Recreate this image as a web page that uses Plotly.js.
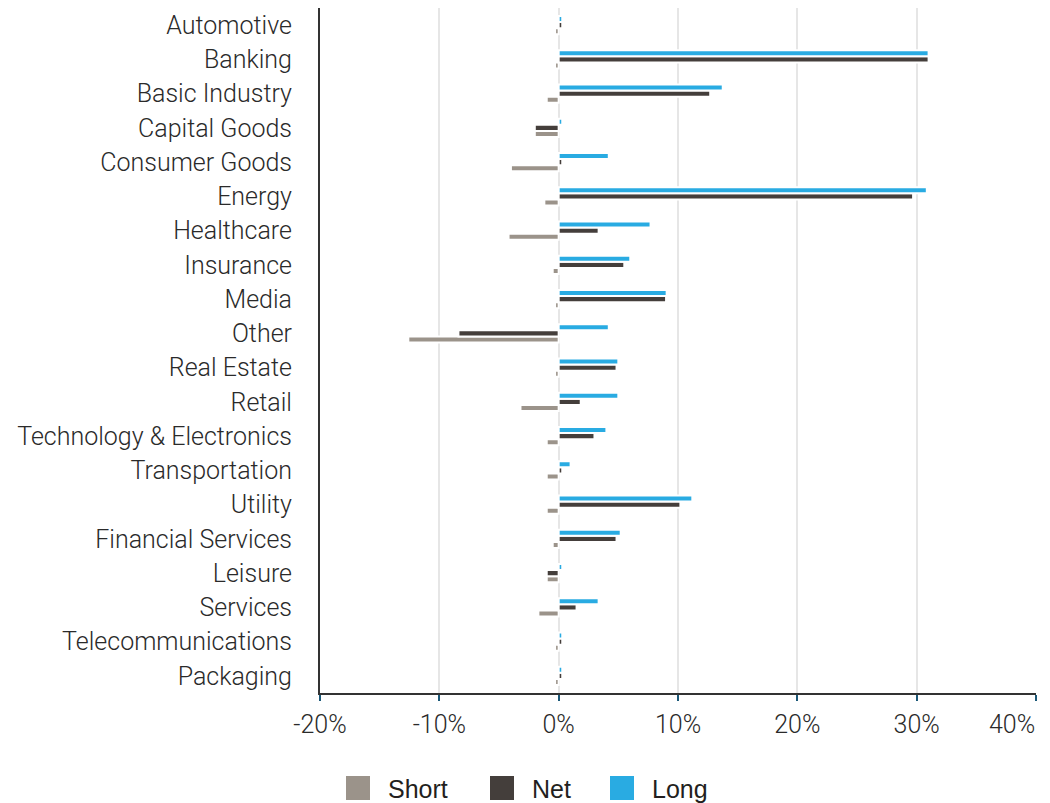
<!DOCTYPE html>
<html>
<head>
<meta charset="utf-8">
<script src="https://cdn.plot.ly/plotly-3.0.1.min.js"></script>
<style>html,body{margin:0;padding:0;background:#fff;}#chart{width:1050px;height:803px;}</style>
</head>
<body>
<div id="chart"></div>
<script>
const categories = ['Automotive','Banking','Basic Industry','Capital Goods','Consumer Goods','Energy','Healthcare','Insurance','Media','Other','Real Estate','Retail','Technology & Electronics','Transportation','Utility','Financial Services','Leisure','Services','Telecommunications','Packaging'];
const shortValues = [-0.3,-0.3,-1.0,-2.0,-4.0,-1.2,-4.2,-0.5,-0.3,-12.6,-0.3,-3.2,-1.0,-1.0,-1.0,-0.5,-1.0,-1.7,-0.3,-0.3];
const netValues   = [0.3,31.0,12.7,-2.0,0.3,29.7,3.35,5.5,9.0,-8.4,4.85,1.85,3.0,0.3,10.2,4.85,-1.0,1.5,0.3,0.3];
const longValues  = [0.3,31.0,13.75,0.3,4.2,30.85,7.7,6.0,9.05,4.2,5.0,5.0,4.0,1.0,11.2,5.2,0.3,3.35,0.3,0.3];
const seriesNames = ['Short','Net','Long'];
const seriesColors = ['#9b938a','#443e3b','#29abe2'];
const tickValues = [-20,-10,0,10,20,30,40];
const tickLabels = ['-20%','-10%','0%','10%','20%','30%','40%'];

const L = 320, R = 14, T = 8, B = 110, W = 1050, H = 803;
const PW = W - L - R, PH = H - T - B;
const px2x = p => (p - L) / PW;
const py2y = p => (T + PH - p) / PH;
const tickFont = {family: 'Roboto, sans-serif', size: 25, color: '#2a2a2a', weight: 300};

const seriesValues = [shortValues, netValues, longValues];
const traces = seriesValues.map((vals, i) => ({
  type: 'bar',
  orientation: 'h',
  name: seriesNames[i],
  x: vals,
  y: categories,
  marker: {color: seriesColors[i], line: {color: '#ffffff', width: 2}},
  showlegend: false,
  hoverinfo: 'skip'
}));

// manual legend (squares + text)
const legendItems = [
  {sq: 346, tx: 386},
  {sq: 490, tx: 530},
  {sq: 610, tx: 650}
];
const shapes = legendItems.map((it, i) => ({
  type: 'rect', xref: 'paper', yref: 'paper',
  x0: px2x(it.sq), x1: px2x(it.sq + 24),
  y0: py2y(800), y1: py2y(776),
  fillcolor: seriesColors[i], line: {width: 0}
}));
const annotations = legendItems.map((it, i) => ({
  xref: 'paper', yref: 'paper',
  x: px2x(it.tx), y: py2y(789),
  xanchor: 'left', yanchor: 'middle',
  text: seriesNames[i], showarrow: false,
  font: {family: 'Liberation Sans, Arial, sans-serif', size: 25, color: '#231f20'}
}));
// last x tick label kept inside the figure (right-aligned to its tick)
const lastIdx = tickValues.length - 1;
annotations.push({
  xref: 'x', yref: 'paper',
  x: tickValues[lastIdx], y: py2y(724),
  xanchor: 'right', yanchor: 'middle', xshift: 1,
  text: tickLabels[lastIdx], showarrow: false,
  font: tickFont
});
const tickText = tickLabels.map((t, i) => i === lastIdx ? '' : t);

const layout = {
  width: W, height: H,
  margin: {l: L, r: R, t: T, b: B, pad: 0},
  paper_bgcolor: '#ffffff', plot_bgcolor: '#ffffff',
  barmode: 'group',
  bargap: 0.474,
  bargroupgap: 0,
  showlegend: false,
  font: {family: 'Roboto, sans-serif', color: '#2a2a2a'},
  xaxis: {
    range: [-20, 40],
    tickvals: tickValues, ticktext: tickText,
    showgrid: true, gridcolor: '#e6e6e6', gridwidth: 2,
    zeroline: true, zerolinecolor: '#e6e6e6', zerolinewidth: 2,
    showline: true, linecolor: '#333333', linewidth: 2,
    ticks: 'outside', ticklen: 6, tickwidth: 2, tickcolor: '#1b5878',
    ticklabelstandoff: 2,
    tickfont: tickFont,
    fixedrange: true
  },
  yaxis: {
    type: 'category',
    categoryorder: 'array',
    categoryarray: categories.slice().reverse(),
    range: [-0.5, categories.length - 0.5],
    showgrid: false, zeroline: false,
    showline: true, linecolor: '#333333', linewidth: 2,
    ticks: '',
    ticklabelstandoff: 21,
    tickfont: tickFont,
    fixedrange: true
  },
  shapes: shapes,
  annotations: annotations
};

Plotly.newPlot('chart', traces, layout, {displayModeBar: false, staticPlot: true});
</script>
</body>
</html>
